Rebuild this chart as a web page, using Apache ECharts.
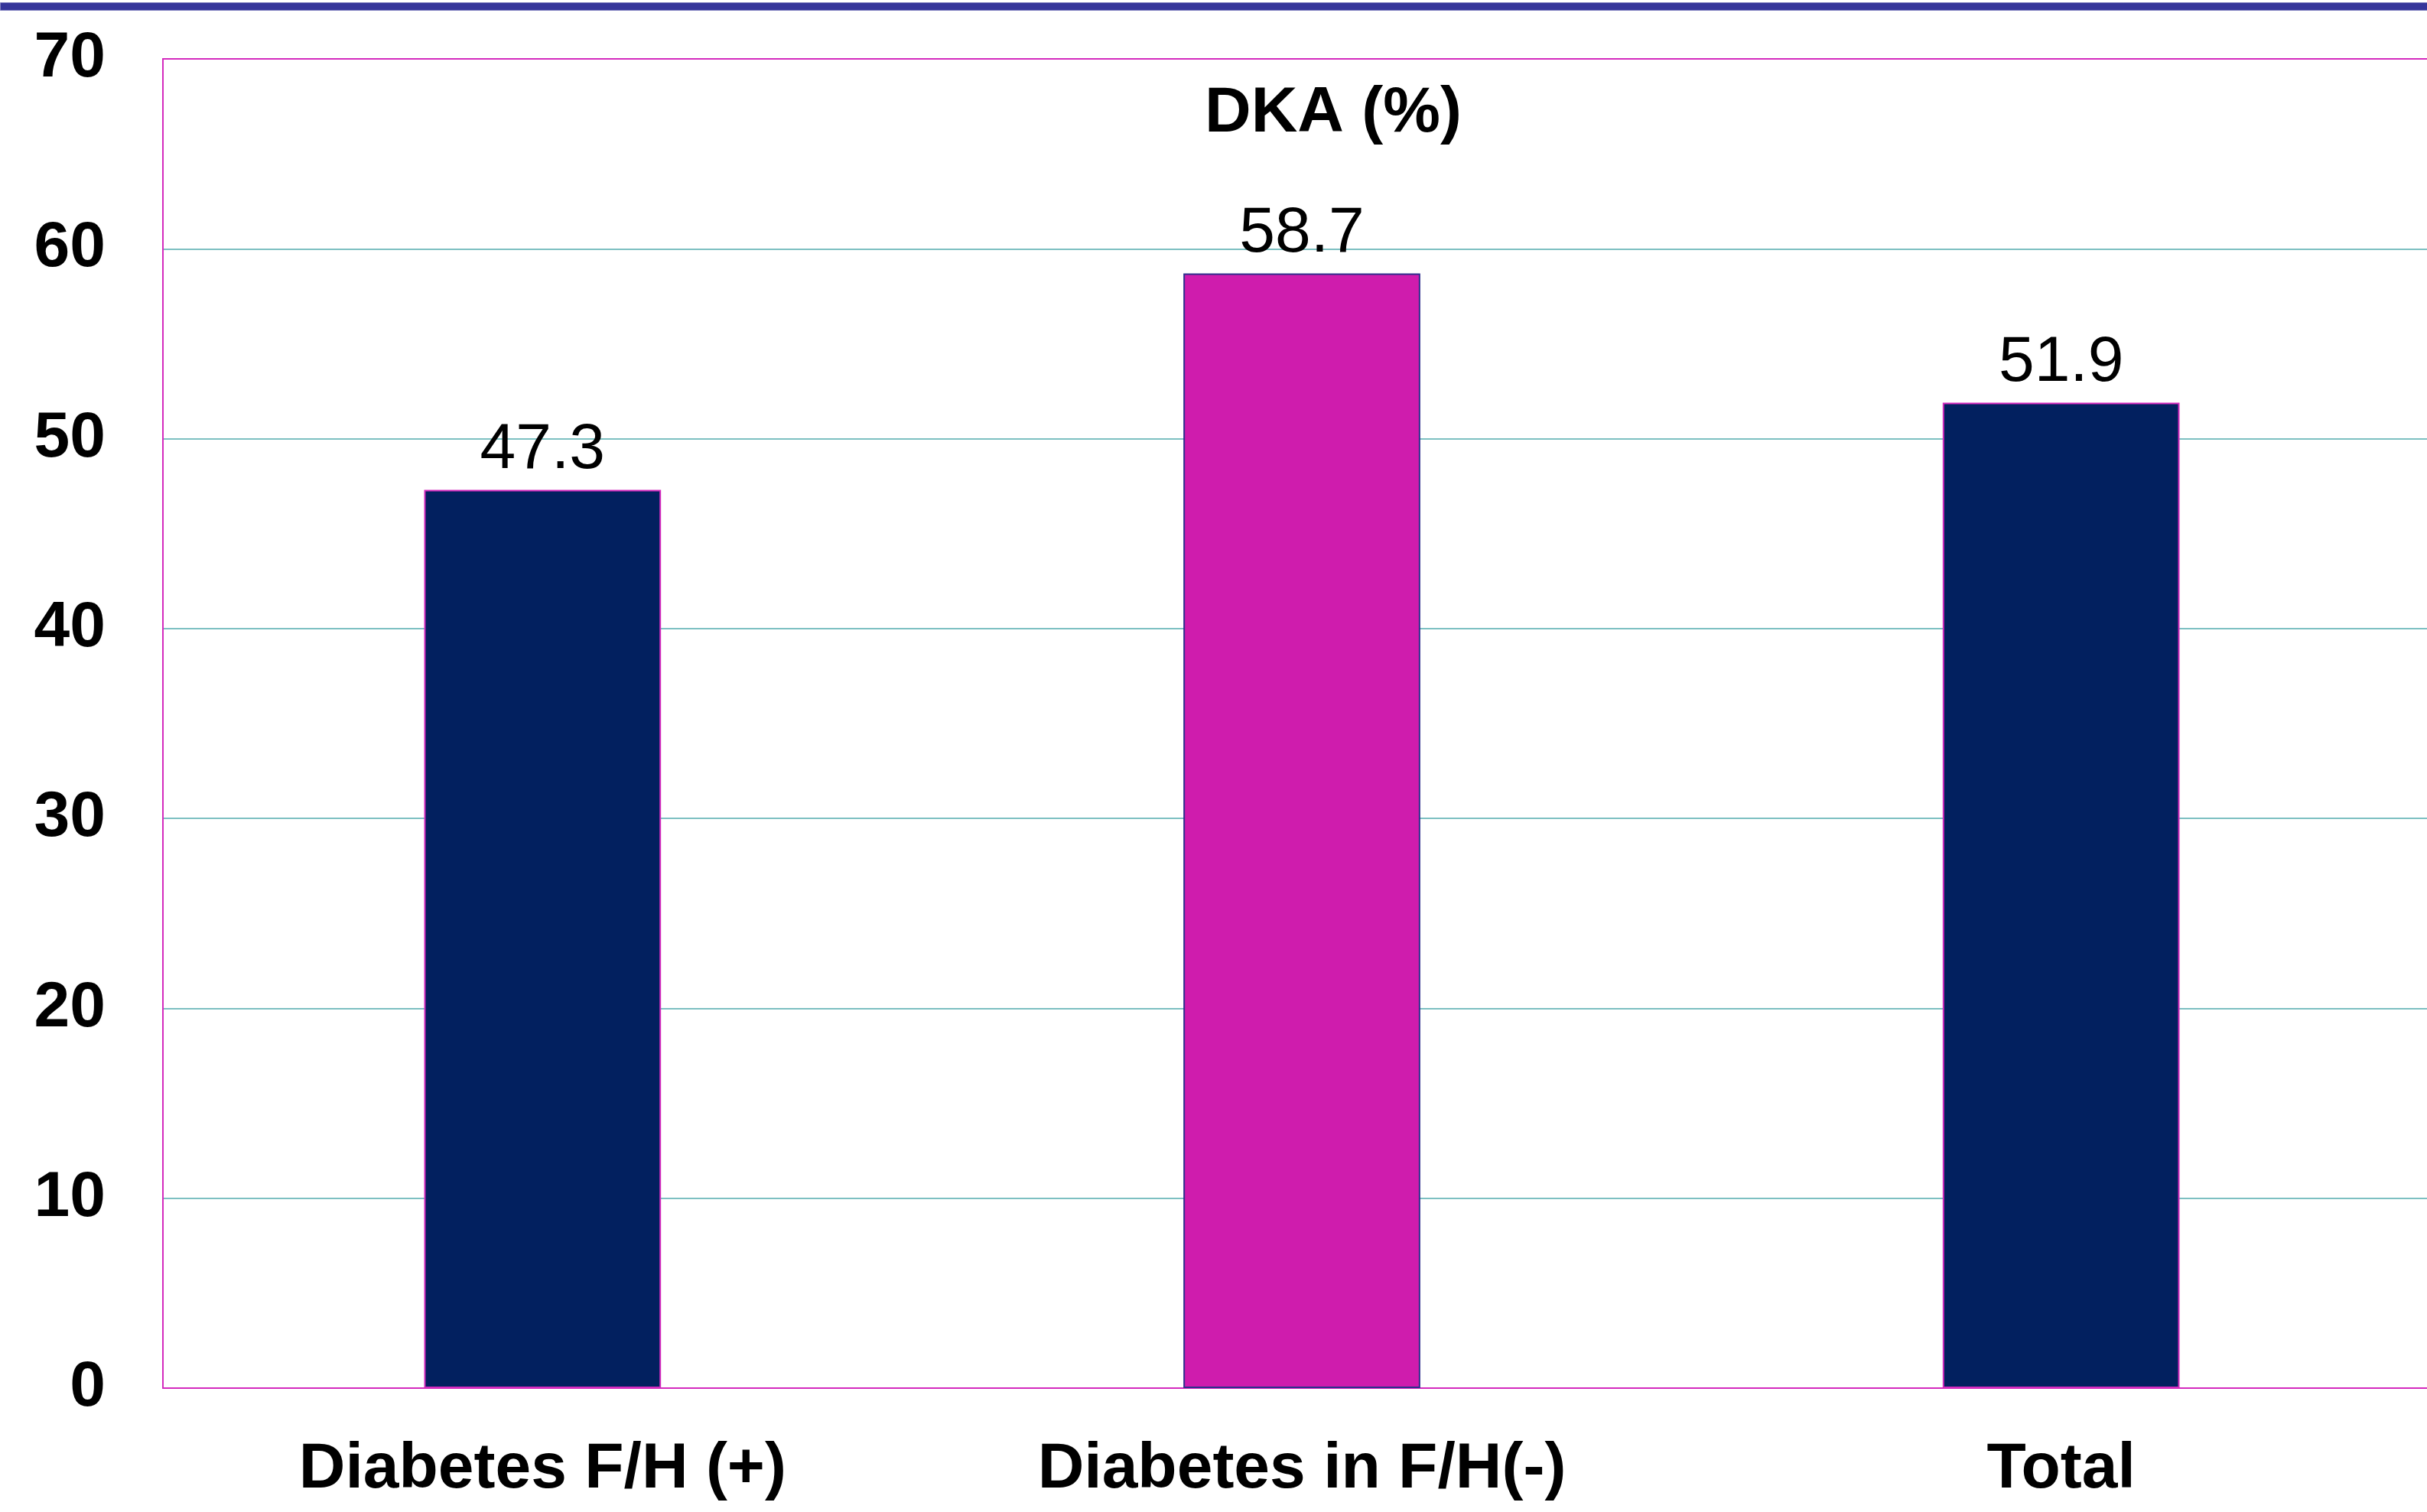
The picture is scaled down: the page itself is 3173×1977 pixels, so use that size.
<!DOCTYPE html>
<html>
<head>
<meta charset="utf-8">
<script src="https://cdn.jsdelivr.net/npm/echarts@6/dist/echarts.min.js"></script>
<style>
html,body{margin:0;padding:0;background:#fff;}
#chart{width:3173px;height:1977px;}
</style>
</head>
<body>
<div id="chart"></div>
<script>
const categories = ['Diabetes F/H (+)', 'Diabetes in F/H(-)', 'Total'];
const dkaValues = [47.3, 58.7, 51.9];
const barColors = ['#02205F', '#CF1CAD', '#02205F'];
const barBorders = ['#D42BBE', '#2E2E8C', '#D42BBE'];
const yTicks = { min: 0, max: 70, interval: 10 };
const chartTitle = 'DKA (%)';

const FONT = '"Liberation Sans", Arial, sans-serif';
const BORDER = '#D42BBE';
const chart = echarts.init(document.getElementById('chart'), null, { renderer: 'canvas' });

chart.setOption({
  backgroundColor: '#ffffff',
  animation: false,
  title: {
    text: chartTitle,
    left: 1743,
    top: 107,
    textAlign: 'center',
    padding: 0,
    textStyle: { fontFamily: FONT, fontSize: 84, fontWeight: 'bold', color: '#000', lineHeight: 84 }
  },
  graphic: [
    { type: 'rect', left: 0, top: 3, shape: { width: 3173, height: 10 }, style: { fill: '#35359A', stroke: '#8080C0', lineWidth: 1 } }
  ],
  grid: {
    left: 213, top: 77, width: 2978, height: 1738,
    outerBoundsMode: 'none',
    containLabel: false,
    show: false
  },
  xAxis: [{
    type: 'category',
    data: categories,
    position: 'bottom',
    axisLine: { show: true, lineStyle: { color: BORDER, width: 2 } },
    axisTick: { show: false },
    axisLabel: { fontFamily: FONT, fontSize: 84, fontWeight: 'bold', color: '#000', margin: 65, lineHeight: 84, interval: 0 }
  }, {
    type: 'category',
    data: categories,
    position: 'top',
    axisLine: { show: true, lineStyle: { color: BORDER, width: 2 } },
    axisTick: { show: false },
    axisLabel: { show: false }
  }],
  yAxis: {
    type: 'value',
    min: yTicks.min, max: yTicks.max, interval: yTicks.interval,
    axisLine: { show: true, lineStyle: { color: BORDER, width: 2 } },
    axisTick: { show: false },
    splitLine: { show: true, showMinLine: false, showMaxLine: false, lineStyle: { color: '#7DC0C2', width: 2 } },
    axisLabel: { fontFamily: FONT, fontSize: 84, fontWeight: 'bold', color: '#000', margin: 75 }
  },
  series: [{
    type: 'bar',
    barWidth: '31.2%',
    data: dkaValues.map((v, i) => ({
      value: v,
      itemStyle: { color: barColors[i], borderColor: barBorders[i], borderWidth: 2 }
    })),
    label: {
      show: true, position: 'top', distance: 10,
      fontFamily: FONT, fontSize: 84, color: '#000', lineHeight: 84,
      formatter: p => p.value.toFixed(1)
    }
  }]
});
</script>
</body>
</html>
